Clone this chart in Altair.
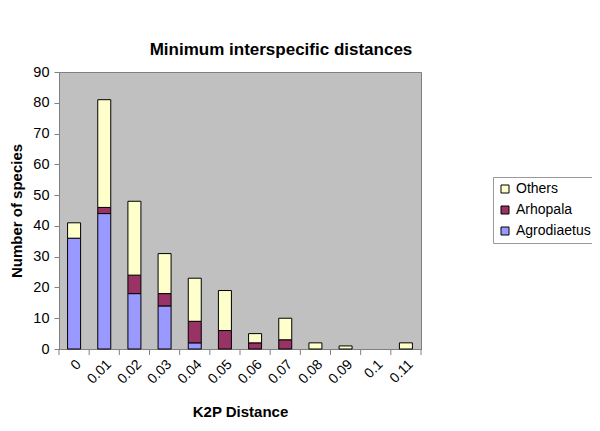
import altair as alt
import pandas as pd

categories = ["0", "0.01", "0.02", "0.03", "0.04", "0.05", "0.06", "0.07", "0.08", "0.09", "0.1", "0.11"]
agrodiaetus = [36, 44, 18, 14, 2, 0, 0, 0, 0, 0, 0, 0]
arhopala = [0, 2, 6, 4, 7, 6, 2, 3, 0, 0, 0, 0]
others = [5, 35, 24, 13, 14, 13, 3, 7, 2, 1, 0, 2]
series = ["Others", "Arhopala", "Agrodiaetus"]
colors = ["#FFFFCC", "#993366", "#9999FF"]

rows = []
for i, c in enumerate(categories):
    rows.append({"dist": c, "group": "Agrodiaetus", "n": agrodiaetus[i], "o": 0})
    rows.append({"dist": c, "group": "Arhopala", "n": arhopala[i], "o": 1})
    rows.append({"dist": c, "group": "Others", "n": others[i], "o": 2})
df = pd.DataFrame(rows)

font = "Liberation Sans"

bars = alt.Chart(df).transform_filter("datum.n > 0").mark_bar(stroke="black", strokeWidth=1, width=13).encode(
    x=alt.X("dist:N", sort=categories, title="K2P Distance",
            scale=alt.Scale(domain=categories, paddingInner=0, paddingOuter=0),
            axis=alt.Axis(labelAngle=-45, ticks=False, domainColor="#808080",
                          labelFont=font, labelFontSize=14, labelColor="black",
                          titleFont=font, titleFontSize=15, titleFontWeight="bold",
                          titlePadding=18, labelPadding=8)),
    y=alt.Y("n:Q", stack="zero", title="Number of species",
            scale=alt.Scale(domain=[0, 90], nice=False),
            axis=alt.Axis(values=list(range(0, 91, 10)), grid=False, domainColor="#808080",
                          tickColor="#808080", tickSize=5,
                          labelFont=font, labelFontSize=14.5, labelColor="black",
                          titleFont=font, titleFontSize=15, titleFontWeight="bold",
                          titlePadding=8, labelPadding=5)),
    color=alt.Color("group:N", scale=alt.Scale(domain=series, range=colors),
                    legend=alt.Legend(title=None, orient="none", legendX=434, legendY=105,
                                      symbolType="square", symbolSize=64,
                                      symbolStrokeColor="black", symbolStrokeWidth=1,
                                      labelFont=font, labelFontSize=14, labelColor="black",
                                      labelOffset=4,
                                      strokeColor="#999999", padding=5, rowPadding=7,
                                      fillColor="white")),
    order=alt.Order("o:Q"),
)

ticks_df = pd.DataFrame({"dist": categories})
ticks = alt.Chart(ticks_df).mark_rule(color="#808080", strokeWidth=1).encode(
    x=alt.X("dist:N", sort=categories, bandPosition=0),
    y=alt.value(277),
    y2=alt.value(283),
)
end_tick = alt.Chart(pd.DataFrame({"a": [1]})).mark_rule(color="#808080").encode(
    x=alt.value(362), y=alt.value(277), y2=alt.value(283)
)

chart = alt.layer(bars, ticks, end_tick).properties(
    width=362, height=277,
    title=alt.TitleParams("Minimum interspecific distances", font=font, fontSize=17,
                          fontWeight="bold", anchor="middle", dx=41, offset=5, color="black"),
    autosize=alt.AutoSizeParams(type="none"),
    padding={"left": 51, "top": 64, "right": 171, "bottom": 74},
).configure_view(fill="#C0C0C0", stroke="#808080", strokeWidth=1)

chart.save("out.html", embed_options={"renderer": "svg", "actions": False})
